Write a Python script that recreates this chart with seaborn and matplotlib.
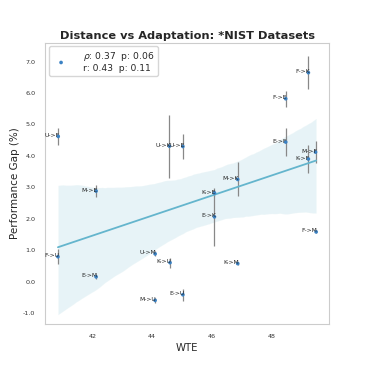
import matplotlib
matplotlib.use("Agg")
import matplotlib.pyplot as plt
import numpy as np
import pandas as pd
import seaborn as sns

# dataset pairs (source->target), WTE distance, performance gap and its spread
pairs = ["U->F", "U->K", "U->E", "F->K", "F->E", "E->F", "M->F", "K->F",
         "M->E", "F->U", "U->M", "K->U", "E->M", "M->U", "E->U", "K->E",
         "E->K", "M->K", "K->M", "F->M"]
wte = [40.85, 44.58, 45.03, 49.24, 48.48, 48.48, 49.48, 49.24,
       42.12, 40.84, 44.10, 44.60, 42.12, 44.10, 45.03, 46.09,
       46.09, 46.87, 46.87, 49.50]
gap = [4.62, 4.31, 4.30, 6.65, 5.82, 4.44, 4.12, 3.90,
       2.88, 0.79, 0.88, 0.60, 0.15, -0.60, -0.42, 2.82,
       2.06, 3.25, 0.57, 1.58]
gap_err = [0.27, 1.00, 0.41, 0.53, 0.25, 0.44, 0.36, 0.45,
           0.20, 0.24, 0.08, 0.16, 0.06, 0.08, 0.19, 0.10,
           0.93, 0.54, 0.04, 0.05]

legend_label = "$\\rho$: 0.37  p: 0.06\nr: 0.43  p: 0.11"

df = pd.DataFrame({"pair": pairs, "wte": wte, "gap": gap, "err": gap_err})

sns.set_style("whitegrid")
fig, ax = plt.subplots(figsize=(3.66, 3.66), dpi=100)
fig.subplots_adjust(left=0.123, right=0.899, bottom=0.115, top=0.883)
ax.grid(False)

ax.errorbar(df["wte"], df["gap"], yerr=df["err"], fmt="none",
            ecolor="#888888", elinewidth=0.9, zorder=2)
sns.scatterplot(data=df, x="wte", y="gap", ax=ax, s=7, color="#3b82c4",
                edgecolor="none", label=legend_label, zorder=3)
sns.regplot(data=df, x="wte", y="gap", ax=ax, scatter=False, color="#64b5cd",
            line_kws={"linewidth": 1.3}, seed=0)

for _, row in df.iterrows():
    ax.text(row["wte"] + 0.05, row["gap"] + 0.03, row["pair"], ha="right",
            va="center", fontsize=4.3, color="#222222", zorder=4)

ax.set_ylim(-1.35, 7.6)
ax.set_xticks([42, 44, 46, 48])
ax.set_yticks(np.arange(-1, 8, 1))
ax.set_yticklabels([f"{v:.1f}" for v in np.arange(-1, 8, 1)])
ax.tick_params(labelsize=4.6, colors="#333333", length=0, pad=7)
ax.set_xlabel("WTE", fontsize=7.3, labelpad=3)
ax.set_ylabel("Performance Gap (%)", fontsize=7.5, labelpad=2)
ax.set_title("Distance vs Adaptation: *NIST Datasets", fontsize=8.2,
             fontweight="bold", pad=3)
ax.legend(loc="upper left", fontsize=6.6, handletextpad=1.4, borderpad=0.35,
          borderaxespad=0.4, labelspacing=0.2, frameon=True)

fig.savefig("out.png", dpi=100)
